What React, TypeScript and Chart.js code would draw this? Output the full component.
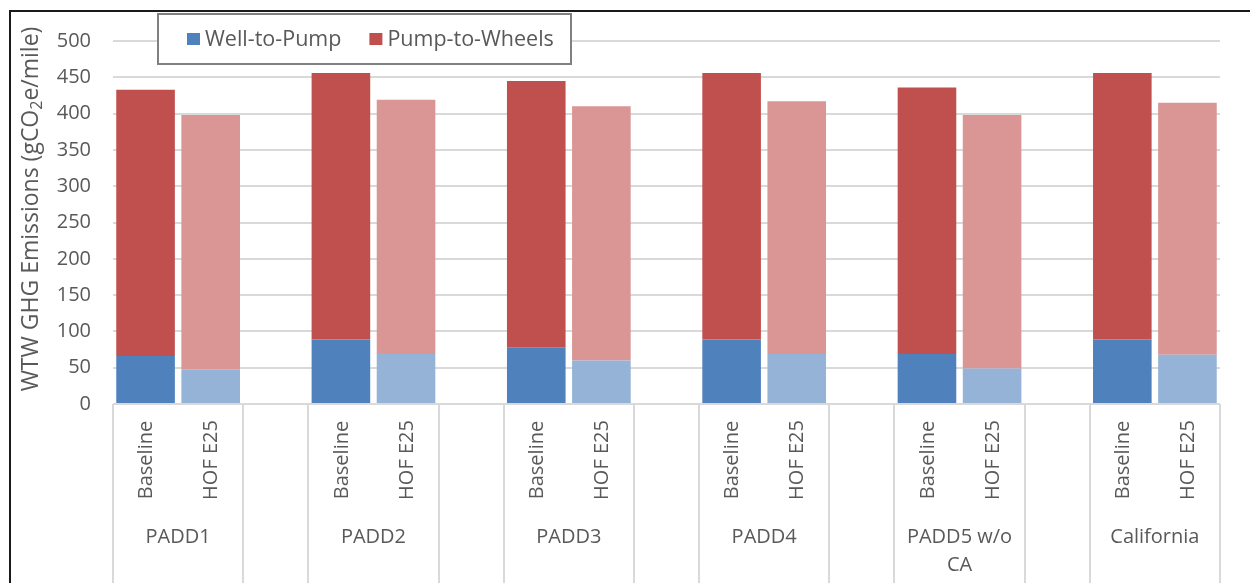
import React, { useEffect, useRef } from "react";
import { Chart, registerables } from "chart.js";

Chart.register(...registerables);

const groups = ["PADD1", "PADD2", "PADD3", "PADD4", "PADD5 w/o CA", "California"];
const scenarios = ["Baseline", "HOF E25"];
const seriesNames = ["Well-to-Pump", "Pump-to-Wheels"];
const wellToPumpBaseline = [66, 89, 78, 89, 69, 89];
const wellToPumpHOF = [48, 69, 60, 69, 49, 68];
const pumpToWheelsBaseline = [367, 367, 367, 367, 367, 367];
const pumpToWheelsHOF = [350, 350, 350, 348, 349, 347];
const yTicks = [0, 50, 100, 150, 200, 250, 300, 350, 400, 450, 500];

const FONT = "'Open Sans', sans-serif";
const TEXT = "#595959";
const GRID = "#d9d9d9";
const C_WTP = ["#4f81bd", "#95b3d7"];
const C_PTW = ["#c0504d", "#d99694"];

// Build slot-based labels (two bars per group + a blank spacer slot)
const labels: string[] = [];
const wtpData: (number | null)[] = [];
const ptwData: (number | null)[] = [];
const wtpColors: string[] = [];
const ptwColors: string[] = [];
groups.forEach((g, i) => {
  scenarios.forEach((s, j) => {
    labels.push(s);
    wtpData.push(j === 0 ? wellToPumpBaseline[i] : wellToPumpHOF[i]);
    ptwData.push(j === 0 ? pumpToWheelsBaseline[i] : pumpToWheelsHOF[i]);
    wtpColors.push(C_WTP[j]);
    ptwColors.push(C_PTW[j]);
  });
  if (i < groups.length - 1) {
    labels.push("");
    wtpData.push(null);
    ptwData.push(null);
    wtpColors.push("transparent");
    ptwColors.push("transparent");
  }
});

function wrap(ctx: CanvasRenderingContext2D, text: string, maxW: number): string[] {
  const words = text.split(" ");
  const lines: string[] = [];
  let cur = "";
  words.forEach((w) => {
    const t = cur ? cur + " " + w : w;
    if (ctx.measureText(t).width > maxW && cur) {
      lines.push(cur);
      cur = w;
    } else cur = t;
  });
  if (cur) lines.push(cur);
  return lines;
}

const customDraw = {
  id: "customDraw",
  afterDraw(chart: any) {
    const ctx: CanvasRenderingContext2D = chart.ctx;
    const x = chart.scales.x;
    const area = chart.chartArea;
    const H = chart.height;
    const slotW = x.getPixelForValue(1) - x.getPixelForValue(0);
    const left = (k: number) => x.getPixelForValue(k) - slotW / 2;
    ctx.save();

    // separators in the category axis area
    ctx.strokeStyle = GRID;
    ctx.lineWidth = 2;
    const bounds: number[] = [];
    groups.forEach((_, i) => {
      bounds.push(i * 3, i * 3 + 2);
    });
    bounds.push(labels.length);
    bounds.forEach((k) => {
      const px = Math.round(left(k));
      ctx.beginPath();
      ctx.moveTo(px, area.bottom);
      ctx.lineTo(px, H);
      ctx.stroke();
    });

    // rotated scenario labels
    ctx.fillStyle = TEXT;
    ctx.font = `20px ${FONT}`;
    ctx.textAlign = "center";
    ctx.textBaseline = "middle";
    labels.forEach((l, k) => {
      if (!l) return;
      const cx = x.getPixelForValue(k);
      ctx.save();
      ctx.translate(cx + 1, 460);
      ctx.rotate(-Math.PI / 2);
      ctx.fillText(l, 0, 0);
      ctx.restore();
    });

    // group labels
    groups.forEach((g, i) => {
      const l0 = left(i * 3);
      const l1 = left(i * 3 + 2);
      const cx = (l0 + l1) / 2;
      const lines = wrap(ctx, g, l1 - l0 - 16);
      lines.forEach((ln, li) => {
        ctx.fillText(ln, cx, 537 + li * 28);
      });
    });

    // y-axis title with subscript
    const p1 = "WTW GHG Emissions (gCO";
    const p2 = "2";
    const p3 = "e/mile)";
    ctx.font = `23px ${FONT}`;
    const w1 = ctx.measureText(p1).width;
    const w3 = ctx.measureText(p3).width;
    ctx.font = `16px ${FONT}`;
    const w2 = ctx.measureText(p2).width;
    const total = w1 + w2 + w3;
    ctx.save();
    ctx.translate(30, 209);
    ctx.rotate(-Math.PI / 2);
    ctx.textAlign = "left";
    ctx.textBaseline = "alphabetic";
    ctx.font = `23px ${FONT}`;
    ctx.fillText(p1, -total / 2, 8);
    ctx.font = `16px ${FONT}`;
    ctx.fillText(p2, -total / 2 + w1, 12);
    ctx.font = `23px ${FONT}`;
    ctx.fillText(p3, -total / 2 + w1 + w2, 8);
    ctx.restore();

    // legend box
    ctx.fillStyle = "#ffffff";
    ctx.fillRect(157, 13, 415, 51);
    ctx.strokeStyle = "#808080";
    ctx.lineWidth = 2;
    ctx.strokeRect(158, 14, 413, 50);
    ctx.font = `21.5px ${FONT}`;
    ctx.textAlign = "left";
    ctx.textBaseline = "alphabetic";
    let lx = 187;
    seriesNames.forEach((n, i) => {
      ctx.fillStyle = i === 0 ? C_WTP[0] : C_PTW[0];
      ctx.fillRect(lx, 33, 13, 12);
      ctx.fillStyle = TEXT;
      ctx.fillText(n, lx + 18, 46);
      lx += 18 + ctx.measureText(n).width + 28;
    });

    // outer border
    ctx.strokeStyle = "#1a1a1a";
    ctx.lineWidth = 2;
    ctx.beginPath();
    ctx.moveTo(10, H);
    ctx.lineTo(10, 11);
    ctx.lineTo(chart.width, 11);
    ctx.stroke();

    ctx.restore();
  },
};

export default function App() {
  const ref = useRef<HTMLCanvasElement | null>(null);
  useEffect(() => {
    if (!ref.current) return;
    const chart = new Chart(ref.current, {
      type: "bar",
      data: {
        labels,
        datasets: [
          {
            label: seriesNames[0],
            data: wtpData,
            backgroundColor: wtpColors,
            borderWidth: 0,
            barPercentage: 0.9,
            categoryPercentage: 1.0,
          },
          {
            label: seriesNames[1],
            data: ptwData,
            backgroundColor: ptwColors,
            borderWidth: 0,
            barPercentage: 0.9,
            categoryPercentage: 1.0,
          },
        ],
      },
      options: {
        responsive: false,
        animation: false,
        layout: { padding: { top: 41, right: 30, bottom: 179, left: 0 } },
        plugins: {
          legend: { display: false },
          tooltip: { enabled: false },
        },
        scales: {
          x: { display: false, stacked: true },
          y: {
            stacked: true,
            min: 0,
            max: 500,
            afterFit: (s: any) => {
              s.width = 113;
            },
            afterBuildTicks: (s: any) => {
              s.ticks = yTicks.map((v) => ({ value: v }));
            },
            border: { display: false },
            grid: { color: GRID, lineWidth: 2, drawTicks: false },
            ticks: {
              color: TEXT,
              font: { family: FONT, size: 20 },
              padding: 22,
            },
          },
        },
      },
      plugins: [customDraw],
    });
    return () => chart.destroy();
  }, []);
  return (
    <div style={{ position: "fixed", left: 0, top: 0, width: 1250, height: 583, background: "#fff" }}>
      <canvas ref={ref} width={1250} height={583} style={{ display: "block" }} />
    </div>
  );
}
